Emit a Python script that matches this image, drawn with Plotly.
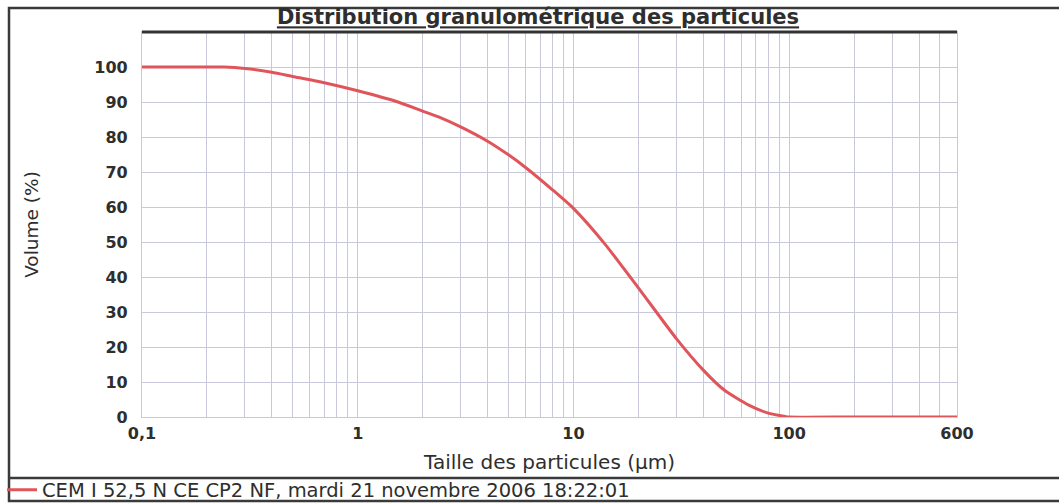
import plotly.graph_objects as go
import numpy as np

# Data (cumulative volume %, vs particle size in µm)
size_um = [0.1, 0.2, 0.24, 0.3, 0.4, 0.5, 0.7, 1.0, 1.5, 2.0, 2.4, 3.0, 4.0, 5.0, 6.0, 8.0,
           10.0, 14.0, 20.0, 30.0, 40.0, 50.0, 65.0, 80.0, 95.0, 100.0, 200.0, 600.0]
volume_pct = [100, 100, 100, 99.6, 98.5, 97.3, 95.5, 93.2, 90.2, 87.4, 85.6, 82.9, 78.8,
              74.9, 71.3, 64.9, 59.6, 49.4, 36.9, 22.4, 13.4, 7.7, 3.4, 1.1, 0.2, 0.0, 0.0, 0.0]

series_name = "CEM I 52,5 N CE CP2 NF, mardi 21 novembre 2006 18:22:01"
title_text = "Distribution granulométrique des particules"
x_title = "Taille des particules (µm)"
y_title = "Volume (%)"

x_major_vals = [0.1, 1, 10, 100, 600]
x_major_text = ["0,1", "1", "10", "100", "600"]
x_minor_vals = [m * 10.0 ** e for e in (-1, 0, 1, 2) for m in range(2, 10) if m * 10.0 ** e <= 600]
y_tick_vals = list(range(0, 101, 10))

W, H = 1059, 504
ML, MR, MT, MB = 142, 102, 32, 87
PW, PH = W - ML - MR, H - MT - MB

def px_x(p):
    return (p - ML) / PW

def px_y(p):
    return (H - MB - p) / PH

TXT = "#2e2e2e"
GRID = "#c9c9de"
FONT = "DejaVu Sans"

fig = go.Figure()
fig.add_trace(go.Scatter(
    x=size_um, y=volume_pct, mode="lines", name=series_name,
    line=dict(color="#e0555a", width=3, shape="spline", smoothing=0.6), showlegend=True,
))

fig.update_layout(
    width=W, height=H,
    margin=dict(l=ML, r=MR, t=MT, b=MB, autoexpand=False),
    paper_bgcolor="white", plot_bgcolor="white",
    font=dict(family=FONT, color=TXT, size=18),
    title=dict(text="<b><u>" + title_text + "</u></b>", x=538 / W, xanchor="center",
               y=1 - 17 / H, yanchor="middle", font=dict(family=FONT, size=21, color=TXT)),
    showlegend=True,
    legend=dict(x=px_x(2), xanchor="left", y=px_y(490), yanchor="middle",
                bgcolor="rgba(0,0,0,0)", font=dict(family=FONT, size=19.5, color=TXT),
                itemwidth=30),
    xaxis=dict(
        type="log", range=[-1, np.log10(600)],
        tickmode="array", tickvals=x_major_vals, ticktext=x_major_text,
        tickfont=dict(family=FONT, size=16, color=TXT, weight="bold"),
        ticks="", ticklabelstandoff=2,
        showgrid=True, gridcolor=GRID, gridwidth=1.2,
        minor=dict(tickmode="array", tickvals=x_minor_vals, showgrid=True,
                   gridcolor=GRID, gridwidth=1.2, ticks=""),
        showline=True, mirror=True, linecolor=GRID, linewidth=1.2,
        zeroline=False,
        title=dict(text=x_title, standoff=12, font=dict(family=FONT, size=20, color=TXT)),
        automargin=False,
    ),
    yaxis=dict(
        range=[0, 110], tickmode="array", tickvals=y_tick_vals,
        tickfont=dict(family=FONT, size=16, color=TXT, weight="bold"),
        ticks="", ticklabelstandoff=10,
        showgrid=True, gridcolor=GRID, gridwidth=1.2,
        showline=True, mirror=True, linecolor=GRID, linewidth=1.2,
        zeroline=False,
        title=dict(text=y_title, standoff=50, font=dict(family=FONT, size=18.5, color=TXT)),
        automargin=False,
    ),
    shapes=[
        # thick top border of plot area
        dict(type="line", xref="paper", yref="paper", x0=0, x1=1, y0=1, y1=1,
             line=dict(color="#333333", width=3)),
        # outer frame
        dict(type="rect", xref="paper", yref="paper", x0=px_x(9), x1=px_x(1070),
             y0=px_y(501), y1=px_y(8), line=dict(color="#3a3a3a", width=2.5),
             fillcolor="rgba(0,0,0,0)", layer="below"),
        # legend separator
        dict(type="line", xref="paper", yref="paper", x0=px_x(9), x1=px_x(1070),
             y0=px_y(478), y1=px_y(478), line=dict(color="#3a3a3a", width=2.5)),
    ],
)

fig.write_html(
    "out.html",
    config={"displayModeBar": False},
    post_script="document.body.style.margin='0';document.body.style.overflow='hidden';",
)
